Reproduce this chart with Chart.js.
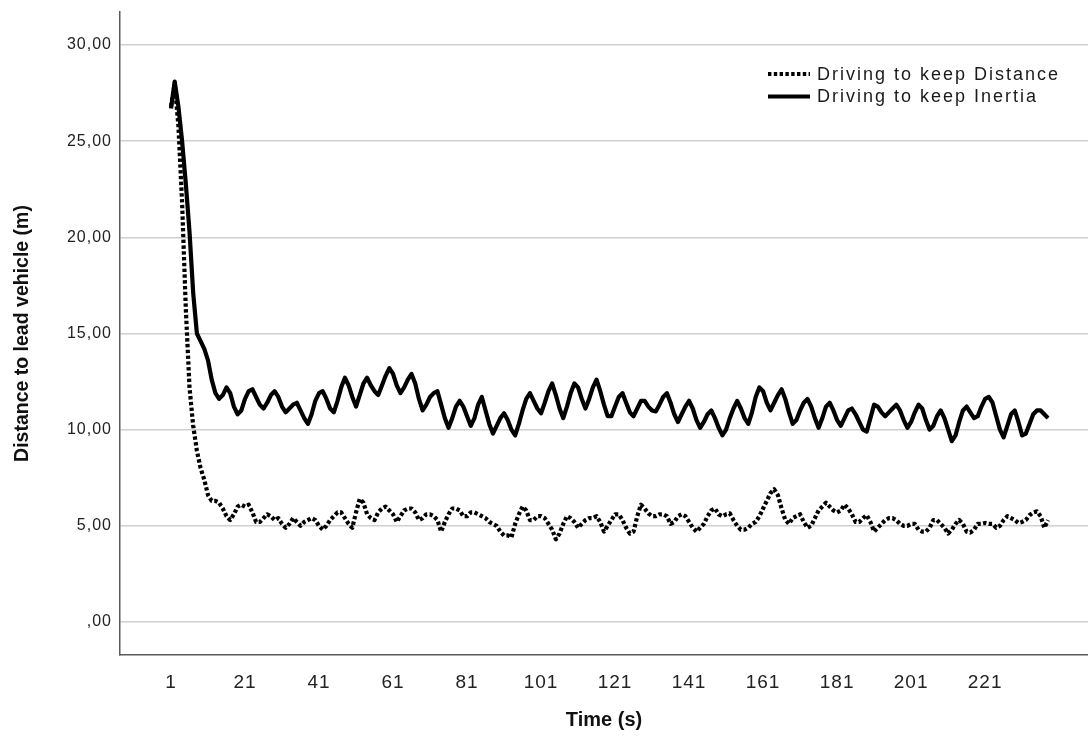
<!DOCTYPE html>
<html>
<head>
<meta charset="utf-8">
<script src="https://cdn.jsdelivr.net/npm/chart.js@4.4.1/dist/chart.umd.min.js"></script>
<style>
  html, body { margin: 0; padding: 0; background: #ffffff; }
  #c { display: block; }
</style>
</head>
<body>
<canvas id="c" width="1088" height="742"></canvas>
<script>
// ---- Data ----
const distance = [
  26.8, 28.0, 25.8, 21.8, 16.3, 12.2, 10.2, 8.9, 8.0, 7.4,
  6.6, 6.3, 6.3, 6.2, 5.9, 5.5, 5.3, 5.6, 6.0, 6.1,
  6.0, 6.1, 5.7, 5.2, 5.2, 5.4, 5.6, 5.5, 5.3, 5.4,
  5.1, 4.9, 5.1, 5.4, 5.2, 5.0, 5.2, 5.3, 5.4, 5.3,
  5.0, 4.8, 5.0, 5.3, 5.5, 5.7, 5.7, 5.4, 5.1, 4.9,
  5.7, 6.4, 6.2, 5.6, 5.4, 5.3, 5.7, 5.9, 6.0, 5.8,
  5.6, 5.2, 5.5, 5.8, 5.9, 5.9, 5.7, 5.3, 5.4, 5.6,
  5.6, 5.5, 5.3, 4.7, 5.2, 5.6, 5.9, 5.9, 5.8, 5.5,
  5.5, 5.7, 5.7, 5.6, 5.5, 5.4, 5.2, 5.1, 5.0, 4.7,
  4.5, 4.5, 4.4, 5.1, 5.6, 6.0, 5.8, 5.3, 5.3, 5.5,
  5.5, 5.4, 5.1, 4.8, 4.3, 4.6, 5.1, 5.5, 5.4, 5.2,
  4.9, 5.1, 5.3, 5.4, 5.4, 5.5, 5.2, 4.7, 5.0, 5.3,
  5.6, 5.6, 5.3, 4.9, 4.6, 4.7, 5.5, 6.1, 5.9, 5.65,
  5.5, 5.5, 5.6, 5.6, 5.5, 5.1, 5.2, 5.5, 5.6, 5.5,
  5.2, 4.9, 4.7, 4.9, 5.1, 5.5, 5.8, 5.9, 5.6, 5.5,
  5.6, 5.65, 5.3, 5.0, 4.8, 4.8, 4.9, 5.1, 5.2, 5.5,
  5.9, 6.3, 6.7, 6.9, 6.6, 5.9, 5.3, 5.1, 5.4, 5.5,
  5.6, 5.2, 4.9, 5.0, 5.4, 5.8, 6.0, 6.2, 6.0, 5.8,
  5.7, 5.8, 6.1, 5.9, 5.6, 5.2, 5.2, 5.4, 5.55, 5.2,
  4.7, 4.9, 5.1, 5.3, 5.4, 5.4, 5.3, 5.1, 5.0, 5.0,
  5.1, 5.1, 4.8, 4.7, 4.7, 4.9, 5.3, 5.3, 5.1, 4.9,
  4.6, 4.8, 5.1, 5.3, 5.1, 4.7, 4.65, 4.8, 5.1, 5.1,
  5.15, 5.1, 5.1, 4.9, 5.0, 5.3, 5.5, 5.4, 5.3, 5.15,
  5.2, 5.3, 5.55, 5.7, 5.75, 5.5, 4.9, 5.3
];
const inertia = [
  26.7, 28.1, 26.8, 25.0, 22.8, 20.3, 17.1, 15.0, 14.6, 14.2,
  13.6, 12.6, 11.9, 11.6, 11.8, 12.2, 11.9, 11.2, 10.8, 11.0,
  11.6, 12.0, 12.1, 11.7, 11.3, 11.1, 11.4, 11.8, 12.0, 11.7,
  11.2, 10.9, 11.1, 11.3, 11.4, 11.0, 10.6, 10.3, 10.8, 11.5,
  11.9, 12.0, 11.6, 11.1, 10.9, 11.5, 12.2, 12.7, 12.3, 11.7,
  11.2, 11.8, 12.4, 12.7, 12.3, 12.0, 11.8, 12.3, 12.8, 13.2,
  12.9, 12.3, 11.9, 12.2, 12.6, 12.9, 12.4, 11.6, 11.0, 11.3,
  11.7, 11.9, 12.0, 11.3, 10.6, 10.1, 10.6, 11.2, 11.5, 11.2,
  10.7, 10.2, 10.6, 11.3, 11.7, 11.0, 10.3, 9.8, 10.2, 10.6,
  10.85, 10.5, 10.0, 9.7, 10.3, 11.0, 11.6, 11.9, 11.5, 11.1,
  10.85, 11.4, 12.0, 12.4, 11.8, 11.1, 10.6, 11.2, 11.9, 12.4,
  12.2, 11.6, 11.1, 11.6, 12.2, 12.6, 12.0, 11.3, 10.7, 10.7,
  11.2, 11.7, 11.9, 11.4, 10.9, 10.7, 11.1, 11.5, 11.5, 11.2,
  11.0, 10.95, 11.3, 11.7, 11.9, 11.4, 10.8, 10.4, 10.8, 11.2,
  11.5, 11.1, 10.5, 10.1, 10.4, 10.8, 11.0, 10.6, 10.1, 9.7,
  10.0, 10.6, 11.1, 11.5, 11.1, 10.6, 10.3, 10.9, 11.7, 12.2,
  12.0, 11.4, 11.0, 11.4, 11.8, 12.1, 11.6, 10.9, 10.3, 10.5,
  11.0, 11.4, 11.6, 11.2, 10.6, 10.1, 10.6, 11.2, 11.4, 11.0,
  10.5, 10.2, 10.6, 11.0, 11.1, 10.8, 10.4, 10.0, 9.9, 10.6,
  11.3, 11.2, 10.9, 10.7, 10.9, 11.1, 11.3, 11.0, 10.5, 10.1,
  10.4, 10.9, 11.3, 11.1, 10.5, 10.0, 10.2, 10.7, 11.0, 10.6,
  10.0, 9.4, 9.7, 10.4, 11.0, 11.2, 10.9, 10.6, 10.7, 11.2,
  11.6, 11.7, 11.4, 10.7, 10.0, 9.6, 10.2, 10.8, 11.0, 10.4,
  9.7, 9.8, 10.3, 10.8, 11.0, 11.0, 10.8, 10.6
];
const time = inertia.map((_, i) => i + 1);          // seconds 1..238
const xTickValues = [1, 21, 41, 61, 81, 101, 121, 141, 161, 181, 201, 221];
const yTickValues = [0, 5, 10, 15, 20, 25, 30];
const seriesNames = ['Driving to keep Distance', 'Driving to keep Inertia'];

// ---- Chart ----
const FONT = '"Liberation Sans", Arial, Helvetica, sans-serif';

const spacingPlugin = {
  id: 'spacing',
  beforeDraw(chart) {
    try { chart.ctx.letterSpacing = '1px'; } catch (e) {}
    Object.values(chart.scales).forEach(s => {
      if (!s._titleWrapped) {
        const orig = s.drawTitle;
        s.drawTitle = function () {
          const ctx = this.ctx;
          let prev;
          try { prev = ctx.letterSpacing; ctx.letterSpacing = '0px'; } catch (e) {}
          orig.apply(this, arguments);
          try { ctx.letterSpacing = prev; } catch (e) {}
        };
        s._titleWrapped = true;
      }
    });
  }
};

const legendPlugin = {
  id: 'insetLegend',
  afterDraw(chart) {
    const ctx = chart.ctx;
    ctx.save();
    try { ctx.letterSpacing = '2px'; } catch (e) {}
    chart.data.datasets.forEach((ds, i) => {
      const y = 74 + i * 22.5;
      ctx.beginPath();
      ctx.setLineDash(ds.borderDash || []);
      ctx.lineWidth = ds.borderWidth;
      ctx.strokeStyle = ds.borderColor;
      ctx.lineCap = 'butt';
      ctx.moveTo(768, y);
      ctx.lineTo(810, y);
      ctx.stroke();
      ctx.setLineDash([]);
      ctx.fillStyle = '#1a1a1a';
      ctx.font = '18px ' + FONT;
      ctx.textAlign = 'left';
      ctx.textBaseline = 'middle';
      ctx.fillText(ds.label, 817, y + 1);
    });
    ctx.restore();
  }
};

new Chart(document.getElementById('c'), {
  type: 'line',
  data: {
    datasets: [
      {
        label: seriesNames[0],
        data: distance.map((v, i) => ({ x: time[i], y: v })),
        borderColor: '#000000',
        borderWidth: 4.2,
        borderDash: [3.4, 2.4],
        borderCapStyle: 'butt',
        borderJoinStyle: 'round',
        pointRadius: 0,
        tension: 0,
        fill: false
      },
      {
        label: seriesNames[1],
        data: inertia.map((v, i) => ({ x: time[i], y: v })),
        borderColor: '#000000',
        borderWidth: 4.2,
        borderJoinStyle: 'round',
        pointRadius: 0,
        tension: 0,
        fill: false
      }
    ]
  },
  options: {
    responsive: false,
    animation: false,
    devicePixelRatio: 1,
    layout: { padding: { top: 12, left: 0, right: 0, bottom: 0 } },
    plugins: {
      legend: { display: false },
      tooltip: { enabled: false }
    },
    scales: {
      x: {
        type: 'linear',
        min: -12.78,
        max: 248.8,
        afterBuildTicks(scale) {
          scale.ticks = xTickValues.map(v => ({ value: v }));
        },
        afterFit(scale) {
          scale.height = 87;
          scale.paddingLeft = 0;
          scale.paddingRight = 0;
        },
        grid: { display: false, drawTicks: false },
        border: { display: true, color: '#5a5a5a', width: 1.5 },
        ticks: {
          autoSkip: false,
          maxRotation: 0,
          padding: 16,
          color: '#222222',
          font: { family: FONT, size: 19 },
          callback: v => String(v)
        },
        title: {
          display: true,
          text: 'Time (s)',
          color: '#111111',
          font: { family: FONT, size: 20, weight: 'bold' },
          padding: { top: 0, bottom: 10 }
        }
      },
      y: {
        type: 'linear',
        min: -1.716,
        max: 31.716,
        afterBuildTicks(scale) {
          scale.ticks = yTickValues.map(v => ({ value: v }));
        },
        afterFit(scale) {
          scale.width = 120;
          scale.paddingTop = 0;
          scale.paddingBottom = 0;
        },
        grid: { display: true, drawTicks: false, color: '#cfcfcf', lineWidth: 1.5 },
        border: { display: true, color: '#5a5a5a', width: 1.5 },
        ticks: {
          padding: 8,
          color: '#222222',
          font: { family: FONT, size: 16 },
          callback: v => (v === 0 ? ',00' : v.toFixed(2).replace('.', ','))
        },
        title: {
          display: true,
          text: 'Distance to lead vehicle (m)',
          color: '#111111',
          font: { family: FONT, size: 19.5, weight: 'bold' },
          padding: { top: 11, bottom: 0 }
        }
      }
    }
  },
  plugins: [spacingPlugin, legendPlugin]
});
</script>
</body>
</html>
